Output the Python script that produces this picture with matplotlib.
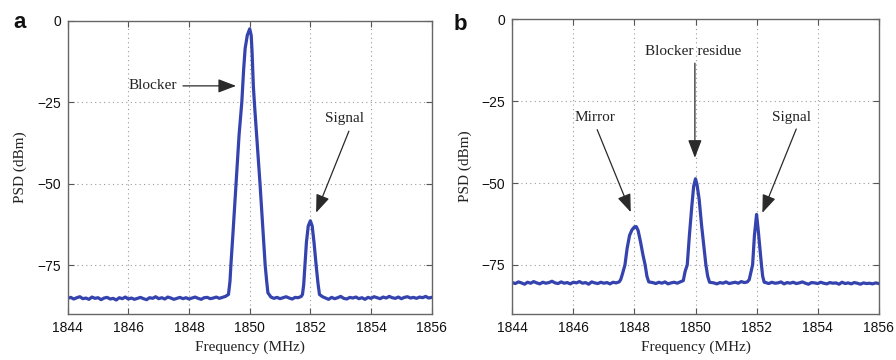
import numpy as np
import matplotlib
matplotlib.use("Agg")
import matplotlib.pyplot as plt

# ---------------- data ----------------
# Panel a: noise floor segments and peak outlines
a_floor1 = [-85.2,-84.9,-85.4,-85.0,-84.7,-85.3,-85.1,-85.5,-84.8,-85.2,
            -85.0,-85.6,-85.1,-84.9,-85.4,-85.2,-85.7,-85.0,-85.3,-84.8,
            -85.4,-85.1,-85.5,-85.2,-84.9,-85.3,-85.6,-85.0,-85.2,-84.7,
            -85.3,-85.0,-85.4,-84.8,-85.1,-85.5,-85.2,-84.9,-85.3,-85.0,
            -85.4,-85.1,-84.8,-85.2,-85.5,-85.0,-84.9,-85.3,-85.1,-84.8,
            -85.2,-84.9,-84.6]
a_floor1_f = (1844.0, 1849.2)
a_blocker_f = [1849.30,1849.35,1849.38,1849.45,1849.55,1849.65,1849.74,1849.80,1849.85,1849.92,
               1850.00,1850.05,1850.08,1850.12,1850.16,1850.25,1850.34,1850.43,1850.51,1850.56,1850.60]
a_blocker_p = [-84.0,-80.0,-75.0,-65.0,-50.0,-35.0,-25.0,-15.0,-8.5,-4.5,
               -2.5,-4.5,-10.0,-20.0,-26.0,-38.0,-50.0,-63.0,-75.0,-80.0,-83.5]
a_floor2 = [-84.8,-85.2,-84.9,-85.3,-85.0,-84.7,-85.1,-85.4,-84.9,-85.0,-84.6]
a_floor2_f = (1850.7, 1851.7)
a_signal_f = [1851.74,1851.78,1851.82,1851.87,1851.93,1852.00,1852.06,1852.12,1852.19,1852.25,1852.30]
a_signal_p = [-84.0,-81.0,-75.0,-68.0,-63.0,-61.4,-63.0,-68.0,-75.0,-80.5,-84.0]
a_floor3 = [-84.7,-85.1,-85.5,-84.9,-85.3,-85.0,-84.6,-85.2,-85.4,-84.9,
            -85.1,-84.8,-85.3,-85.0,-85.5,-84.9,-85.2,-84.7,-85.0,-85.3,
            -84.8,-85.1,-84.6,-85.0,-85.2,-84.8,-85.3,-84.9,-84.7,-85.1,
            -84.9,-85.2,-84.8,-85.0,-84.6,-85.1,-84.9]
a_floor3_f = (1852.4, 1856.0)

# Panel b
b_floor1 = [-80.4,-80.7,-80.2,-80.5,-80.9,-80.3,-80.6,-80.1,-80.5,-80.8,
            -80.3,-80.6,-80.4,-80.0,-80.5,-80.7,-80.2,-80.6,-80.4,-80.8,
            -80.3,-80.5,-80.1,-80.6,-80.4,-80.9,-80.2,-80.5,-80.7,-80.3,
            -80.6,-80.4,-80.8,-80.3,-80.5,-80.2]
b_floor1_f = (1844.0, 1847.5)
b_mirror_f = [1847.55,1847.60,1847.69,1847.76,1847.84,1847.92,1848.00,1848.06,1848.12,1848.20,
              1848.28,1848.35,1848.41,1848.47]
b_mirror_p = [-79.5,-78.0,-75.0,-70.0,-66.0,-64.3,-63.4,-63.3,-64.5,-68.0,
              -72.0,-75.0,-78.5,-80.2]
b_floor2 = [-80.4,-80.7,-80.3,-80.6,-80.2,-80.8,-80.5,-80.3,-80.6,-80.2]
b_floor2_f = (1848.6, 1849.5)
b_residue_f = [1849.60,1849.66,1849.73,1849.80,1849.88,1849.94,1850.00,1850.05,1850.12,1850.20,
               1850.27,1850.34,1850.40,1850.46]
b_residue_p = [-79.8,-77.0,-75.0,-66.0,-57.0,-51.0,-48.7,-50.5,-55.0,-63.0,
               -69.0,-75.0,-78.5,-80.3]
b_floor3 = [-80.5,-80.8,-80.4,-80.6,-80.2,-80.7,-80.5,-80.3,-80.6,-80.1,-80.4,-80.2]
b_floor3_f = (1850.6, 1851.7)
b_signal_f = [1851.76,1851.81,1851.87,1851.93,1852.00,1852.05,1852.11,1852.16,1852.20,1852.25]
b_signal_p = [-79.5,-77.5,-75.0,-66.0,-59.6,-64.0,-70.0,-75.0,-78.5,-80.3]
b_floor4 = [-80.4,-80.7,-80.3,-80.6,-80.5,-80.2,-80.8,-80.4,-80.6,-80.3,
            -80.7,-80.5,-80.2,-80.6,-80.9,-80.4,-80.5,-80.7,-80.3,-80.6,
            -80.8,-80.4,-80.6,-80.5,-80.9,-80.3,-80.7,-80.5,-80.8,-80.4,
            -80.6,-80.9,-80.5,-80.7,-80.6,-80.8,-80.5,-80.7]
b_floor4_f = (1852.3, 1856.0)

x_ticks = [1844, 1846, 1848, 1850, 1852, 1854, 1856]
y_ticks = [0, -25, -50, -75]

# annotations: (text, text position, arrow tail, arrow tip)
a_notes = [("Blocker", (1846.8, -20.0), (1847.8, -20.0), (1849.55, -20.0)),
           ("Signal", (1853.14, -30.0), (1853.27, -33.9), (1852.19, -58.9))]
b_notes = [("Mirror", (1846.70, -30.0), (1846.78, -33.7), (1847.88, -58.9)),
           ("Blocker residue", (1849.92, -9.9), (1849.98, -13.4), (1849.98, -42.3)),
           ("Signal", (1853.16, -30.0), (1853.30, -33.5), (1852.19, -59.1))]


def build(parts):
    f, p = [], []
    for kind, a, b in parts:
        if kind == "floor":
            f.extend(np.linspace(b[0], b[1], len(a)))
            p.extend(a)
        else:
            f.extend(a)
            p.extend(b)
    return np.array(f), np.array(p)


fa, pa = build([("floor", a_floor1, a_floor1_f), ("peak", a_blocker_f, a_blocker_p),
                ("floor", a_floor2, a_floor2_f), ("peak", a_signal_f, a_signal_p),
                ("floor", a_floor3, a_floor3_f)])
fb, pb = build([("floor", b_floor1, b_floor1_f), ("peak", b_mirror_f, b_mirror_p),
                ("floor", b_floor2, b_floor2_f), ("peak", b_residue_f, b_residue_p),
                ("floor", b_floor3, b_floor3_f), ("peak", b_signal_f, b_signal_p),
                ("floor", b_floor4, b_floor4_f)])

# ---------------- drawing ----------------
W, H = 896, 360
fig = plt.figure(figsize=(W / 100, H / 100), dpi=100)
fig.patch.set_facecolor("white")

serif = ["Liberation Serif", "DejaVu Serif"]
sans = ["Liberation Sans", "DejaVu Sans"]
line_color = "#3443ad"


def style(ax):
    ax.set_xlim(1844, 1856)
    ax.set_ylim(-90, 0)
    ax.set_xticks(x_ticks)
    ax.set_yticks(y_ticks)
    ax.set_xticklabels([str(t) for t in x_ticks], fontfamily=sans, fontsize=10, color="#111111")
    ax.set_yticklabels(["0"] + ["\u2212%d" % -t for t in y_ticks[1:]], fontfamily=sans,
                       fontsize=10, color="#111111")
    ax.tick_params(direction="in", top=True, right=True, length=4, width=0.8,
                   color="#555555", pad=5)
    ax.grid(True, linestyle=(0, (1, 3)), color="#9a9a9a", linewidth=0.8)
    for s in ax.spines.values():
        s.set_color("#666666")
        s.set_linewidth(1.0)
    ax.set_xlabel("Frequency (MHz)", fontfamily=serif, fontsize=11, color="#222222", labelpad=4)
    ax.set_ylabel("PSD (dBm)", fontfamily=serif, fontsize=11, color="#222222", labelpad=7)


def notes(ax, items):
    for txt, tpos, tail, tip in items:
        ax.text(tpos[0], tpos[1], txt, fontfamily=serif, fontsize=11, color="#222222",
                ha="center", va="center")
        ax.annotate("", xy=tip, xytext=tail,
                    arrowprops=dict(arrowstyle="-|>,head_length=1.1,head_width=0.42",
                                    color="#2a2a2a", lw=0.9, shrinkA=0, shrinkB=0))


axa = fig.add_axes([67.7 / W, 46 / H, (431.7 - 67.7) / W, (314 - 20.7) / H])
axa.plot(fa, pa, color=line_color, lw=2.3)
style(axa)
notes(axa, a_notes)

axb = fig.add_axes([512.3 / W, 46 / H, (878.7 - 512.3) / W, (314 - 19.3) / H])
axb.plot(fb, pb, color=line_color, lw=2.3)
style(axb)
notes(axb, b_notes)

fig.text(20 / W, 1 - 23 / H, "a", fontfamily=sans, fontweight="bold", fontsize=16,
         ha="center", va="center", color="#111111")
fig.text(460 / W, 1 - 25 / H, "b", fontfamily=sans, fontweight="bold", fontsize=16,
         ha="center", va="center", color="#111111")

fig.savefig("out.png", dpi=100, facecolor="white")
